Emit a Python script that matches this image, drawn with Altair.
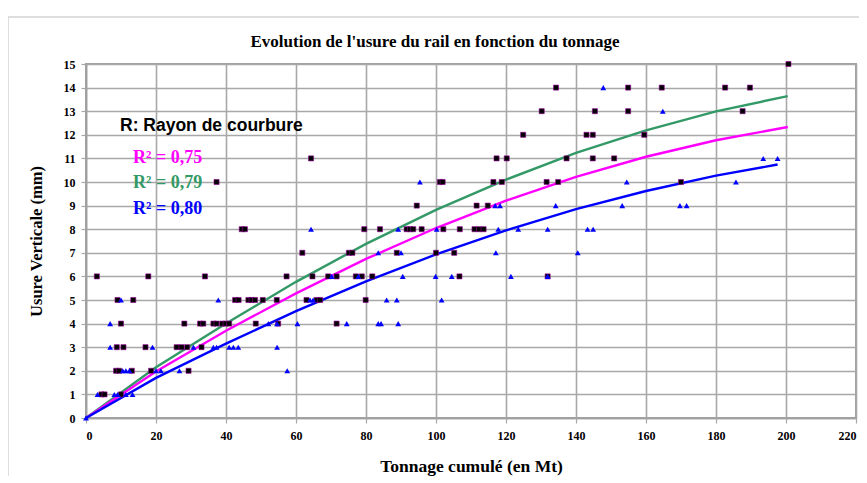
import altair as alt
import pandas as pd

# ---------------- data ----------------
x_ticks = list(range(0, 221, 20))
y_ticks = list(range(0, 16))

sq_x = [200.7,
        134.3, 154.9, 164.5, 182.6, 189.7,
        130.2, 145.4, 154.9, 187.6,
        124.9, 143.0, 144.8, 159.5,
        64.3, 117.3, 120.2, 137.3, 144.8, 150.9,
        37.3, 101.1, 101.9, 116.4, 118.8, 131.6, 134.9, 170.0,
        94.5, 111.6, 114.8,
        44.5, 45.4, 79.5, 84.0, 91.6, 92.6, 93.5, 95.9, 102.1, 106.8, 111.0, 112.3, 113.6,
        61.8, 75.1, 76.1, 88.8, 100.0, 105.2,
        3.1, 17.8, 34.0, 57.3, 64.7, 69.2, 71.6, 77.1, 78.8, 81.8, 106.7, 131.9,
        9.0, 13.5, 42.6, 43.6, 46.4, 47.3, 48.3, 50.5, 54.5, 63.0, 65.9, 66.9, 79.9,
        10.0, 28.1, 32.6, 33.5, 36.4, 37.3, 38.9, 39.9, 40.9, 48.5, 54.9, 71.6,
        8.8, 10.7, 17.0, 25.9, 27.3, 28.9, 33.0,
        8.6, 9.5, 13.1, 18.6, 29.3,
        4.4, 5.3, 10.0]
sq_y = [15,
        14, 14, 14, 14, 14,
        13, 13, 13, 13,
        12, 12, 12, 12,
        11, 11, 11, 11, 11, 11,
        10, 10, 10, 10, 10, 10, 10, 10,
        9, 9, 9,
        8, 8, 8, 8, 8, 8, 8, 8, 8, 8, 8, 8, 8,
        7, 7, 7, 7, 7, 7,
        6, 6, 6, 6, 6, 6, 6, 6, 6, 6, 6, 6,
        5, 5, 5, 5, 5, 5, 5, 5, 5, 5, 5, 5, 5,
        4, 4, 4, 4, 4, 4, 4, 4, 4, 4, 4, 4,
        3, 3, 3, 3, 3, 3, 3,
        2, 2, 2, 2, 2,
        1, 1, 1]

tri_x = [147.8,
         164.8,
         193.5, 197.6,
         95.4, 154.5, 185.7,
         116.9, 118.3, 134.2, 153.2, 169.7, 171.6,
         64.3, 89.2, 100.2, 117.8, 123.5, 131.9, 143.3, 144.9,
         83.5, 90.0, 117.1, 140.5,
         70.2, 77.8, 90.5, 99.9, 104.5, 121.4, 131.9,
         10.0, 37.8, 64.0, 64.9, 85.9, 88.8, 101.6,
         6.9, 52.1, 54.6, 60.4, 74.5, 83.5, 84.3, 89.2,
         6.9, 19.0, 30.7, 36.4, 37.3, 40.9, 42.1, 43.5, 54.6,
         10.5, 11.4, 12.4, 20.0, 21.4, 26.7, 57.5,
         3.3, 8.1, 9.0, 11.4, 13.3,
         0.0]
tri_y = [14,
         13,
         11, 11,
         10, 10, 10,
         9, 9, 9, 9, 9, 9,
         8, 8, 8, 8, 8, 8, 8, 8,
         7, 7, 7, 7,
         6, 6, 6, 6, 6, 6, 6,
         5, 5, 5, 5, 5, 5, 5,
         4, 4, 4, 4, 4, 4, 4, 4,
         3, 3, 3, 3, 3, 3, 3, 3, 3,
         2, 2, 2, 2, 2, 2, 2,
         1, 1, 1, 1, 1,
         0]

fit_x = [0, 20, 40, 60, 80, 100, 120, 140, 160, 180, 200.5]
green_y = [0, 2.15, 4.0, 5.77, 7.38, 8.82, 10.10, 11.23, 12.19, 12.99, 13.64]
magenta_y = [0, 1.97, 3.7, 5.28, 6.74, 8.05, 9.21, 10.22, 11.07, 11.77, 12.33]
blue_x = [0, 20, 40, 60, 80, 100, 120, 140, 160, 180, 197.6]
blue_y = [0, 1.7, 3.15, 4.53, 5.79, 6.93, 7.95, 8.85, 9.62, 10.27, 10.74]

series_names = ["R2 0,79", "R2 0,75", "R2 0,80"]
series_colors = ["#339966", "#ff00ff", "#0000ff"]

# ---------------- tables ----------------
squares = pd.DataFrame({"x": sq_x, "y": sq_y})
triangles = pd.DataFrame({"x": tri_x, "y": tri_y})
lines = pd.concat([
    pd.DataFrame({"x": fit_x, "y": green_y, "s": series_names[0]}),
    pd.DataFrame({"x": fit_x, "y": magenta_y, "s": series_names[1]}),
    pd.DataFrame({"x": blue_x, "y": blue_y, "s": series_names[2]}),
])

SERIF = "Liberation Serif"

xscale = alt.Scale(domain=[0, 220], nice=False, zero=True)
yscale = alt.Scale(domain=[0, 15], nice=False)

# tickCount kept above the number of values so that Vega does not thin them
xaxis = alt.Axis(values=x_ticks, tickCount=50, format="d", title="Tonnage cumulé (en Mt)",
                 titlePadding=16, titleFontSize=17.5, labelPadding=7,
                 grid=True, labelOverlap=False)
yaxis = alt.Axis(values=y_ticks, tickCount=50, format="d", title="Usure Verticale (mm)",
                 titleX=-42, titleY=177, titleFontSize=16.5, labelPadding=6,
                 grid=True, labelOverlap=False)

X = alt.X("x:Q", scale=xscale, axis=xaxis)
Y = alt.Y("y:Q", scale=yscale, axis=yaxis)

line_layer = alt.Chart(lines).mark_line(strokeWidth=2.4, clip=False).encode(
    x=X,
    y=Y,
    color=alt.Color("s:N", scale=alt.Scale(domain=series_names, range=series_colors), legend=None),
    detail="s:N",
)

sq_layer = alt.Chart(squares).mark_square(
    size=26, color="black", stroke="#990099", strokeWidth=0.6, opacity=1, clip=False
).encode(x=X, y=Y)

tri_layer = alt.Chart(triangles).mark_point(
    shape="triangle-up", filled=True, size=34, color="#0000ff", opacity=1, clip=False
).encode(x=X, y=Y)

frame = alt.Chart(pd.DataFrame({"f": [1]})).mark_rect(
    fillOpacity=0, stroke="#d4d4d4", strokeWidth=1.5
).encode(x=alt.value(-78), x2=alt.value(800), y=alt.value(-47), y2=alt.value(440))


def label(text, color, px, py, font, size, align="left"):
    return alt.Chart(pd.DataFrame({"t": [text]})).mark_text(
        align=align, baseline="middle", font=font, fontSize=size,
        fontWeight="bold", color=color,
    ).encode(x=alt.value(px), y=alt.value(py), text="t:N")


ann = [
    label("Evolution de l'usure du rail en fonction du tonnage", "black", 349, -22, SERIF, 17, "center"),
    label("R: Rayon de courbure", "black", 34, 62, "Liberation Sans", 17.5),
    label("R² = 0,75", "#ff00ff", 47, 94, SERIF, 18),
    label("R² = 0,79", "#339966", 47, 119, SERIF, 18),
    label("R² = 0,80", "#0000ff", 47, 145, SERIF, 18),
]

chart = alt.layer(frame, line_layer, sq_layer, tri_layer, *ann).properties(
    width=770,
    height=354,
    autosize=alt.AutoSizeParams(type="none"),
    padding={"left": 78, "top": 56, "right": 3, "bottom": 58},
    background="white",
).configure_axis(
    labelFont=SERIF, labelFontWeight="bold", labelFontSize=12, labelColor="black",
    titleFont=SERIF, titleFontWeight="bold", titleColor="black",
    gridColor="#a8a8a8", gridWidth=1.6, gridOpacity=1,
    domainColor="#a0a0a0", domainWidth=1.6,
    tickColor="#a8a8a8", tickSize=5, tickWidth=1.2,
).configure_view(
    stroke="#a0a0a0", strokeWidth=2,
)

chart.save("out.html", embed_options={"renderer": "svg", "actions": False})
